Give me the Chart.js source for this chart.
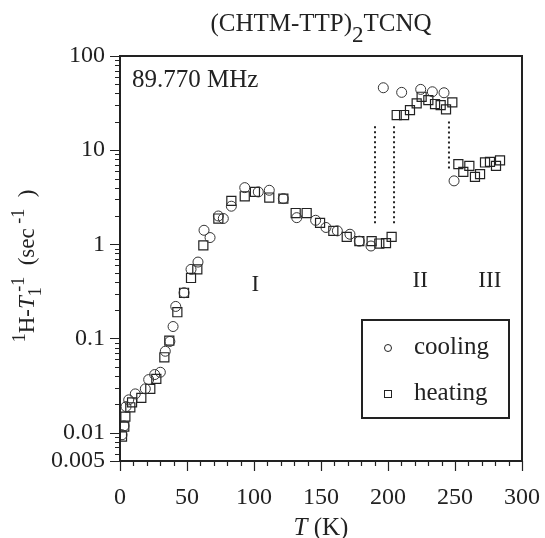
<!DOCTYPE html>
<html>
<head>
<meta charset="utf-8">
<script src="https://cdn.jsdelivr.net/npm/chart.js@4.4.1/dist/chart.umd.min.js"></script>
<style>
html, body { margin: 0; padding: 0; background: #fff; }
</style>
</head>
<body>
<canvas id="c" width="545" height="538"></canvas>
<script>
// cooling run (circles)
const coolingT = [1.5, 3, 4.5, 6.5, 11.4, 18.9, 21.4, 25.9, 30.1, 33.8, 37.2, 39.6, 41.6, 47.8, 53, 58.2,
    62.7, 67.2, 73.4, 77.1, 83.1, 93.1, 103.2, 111.4, 121.9, 131.9, 146, 153.7, 162.2, 171.6, 178.6, 187.3,
    196.5, 210.2, 224.4, 233.1, 241.8, 249.3];
const coolingRate = [0.0095, 0.0118, 0.0189, 0.0223, 0.0258, 0.0292, 0.0366, 0.0414, 0.0438, 0.0732, 0.093, 0.134, 0.219, 0.306, 0.542, 0.648,
    1.41, 1.18, 2.0, 1.88, 2.54, 4.0, 3.6, 3.75, 3.06, 1.92, 1.80, 1.51, 1.39, 1.28, 1.08, 0.96,
    46, 41.1, 44.2, 41.7, 40.7, 4.72];

// heating run (squares)
const heatingT = [1.5, 3.2, 4, 7.7, 9, 15.9, 22.6, 27.1, 33.1, 36.8, 42.8, 47.8, 53, 57.7, 62.2, 73.4,
    83.1, 93.1, 100.7, 111.4, 121.9, 131.1, 139.3, 149.3, 159.2, 169.2, 178.6, 187.8, 193.5, 198.5, 202.7,
    206.5, 212, 216.4, 221.4, 225.1, 230.1, 235.1, 239.3, 243.3, 248,
    252.5, 256.2, 260.7, 264.9, 268.7, 272.4, 276.1, 280.6, 283.6];
const heatingRate = [0.0091, 0.0116, 0.0148, 0.0186, 0.021, 0.0234, 0.0292, 0.0372, 0.0632, 0.095, 0.190, 0.306, 0.439, 0.542, 0.975, 1.88,
    2.89, 3.24, 3.6, 3.14, 3.06, 2.15, 2.15, 1.69, 1.39, 1.20, 1.08, 1.08, 1.02, 1.03, 1.20,
    23.6, 23.6, 26.6, 31.4, 36.9, 34.0, 30.9, 30.1, 27.1, 32.2,
    7.1, 5.88, 6.8, 5.2, 5.56, 7.4, 7.5, 6.8, 7.8];

// dotted transition markers
const transitionT = [190.3, 204.5, 245.5];
const transitionLow = [1.67, 1.67, 6.4];
const transitionHigh = [18.5, 18.5, 20.8];

// phase labels
const phaseNames = ["I", "II", "III"];
const phaseT = [101, 224, 276];
const phaseRate = [0.37, 0.41, 0.41];

const xMajorTicks = [0, 50, 100, 150, 200, 250, 300];
const xMinorTicks = [10, 20, 30, 40, 60, 70, 80, 90, 110, 120, 130, 140, 160, 170, 180, 190,
    210, 220, 230, 240, 260, 270, 280, 290];
const yMajorTicks = [0.005, 0.01, 0.1, 1, 10, 100];
const yMinorTicks = [0.006, 0.007, 0.008, 0.009, 0.02, 0.03, 0.04, 0.05, 0.06, 0.07, 0.08, 0.09,
    0.2, 0.3, 0.4, 0.5, 0.6, 0.7, 0.8, 0.9, 2, 3, 4, 5, 6, 7, 8, 9, 20, 30, 40, 50, 60, 70, 80, 90];

const ink = "#222";
const serif = "'Liberation Serif', 'DejaVu Serif', serif";

const toPoints = (xs, ys) => xs.map((x, i) => ({ x: x, y: ys[i] }));

const transitionSets = transitionT.map((t, i) => ({
    label: "transition" + i,
    data: [{ x: t, y: transitionLow[i] }, { x: t, y: transitionHigh[i] }],
    showLine: true,
    borderColor: ink,
    borderWidth: 2,
    borderDash: [2, 3],
    pointRadius: 0
}));

// draws mixed-font text pieces left to right, returns total width
const drawPieces = (ctx, pieces, x, y, measureOnly) => {
    let cx = x;
    pieces.forEach(p => {
        ctx.font = p.font;
        const w = ctx.measureText(p.text).width;
        if (!measureOnly) ctx.fillText(p.text, cx, y + (p.dy || 0));
        if (!p.noAdvance) cx += w;
    });
    return cx - x;
};

const decorations = {
    id: "decorations",
    afterDraw(chart) {
        const ctx = chart.ctx;
        const xs = chart.scales.x, ys = chart.scales.y;
        const a = chart.chartArea;
        ctx.save();
        ctx.strokeStyle = ink;
        ctx.fillStyle = ink;

        // frame
        ctx.lineWidth = 2;
        ctx.strokeRect(a.left, a.top, a.right - a.left, a.bottom - a.top);

        // tick marks, outward
        ctx.lineWidth = 1.2;
        ctx.beginPath();
        xMajorTicks.forEach(v => { const px = Math.round(xs.getPixelForValue(v)) + 0.5; ctx.moveTo(px, a.bottom); ctx.lineTo(px, a.bottom + 10); });
        xMinorTicks.forEach(v => { const px = Math.round(xs.getPixelForValue(v)) + 0.5; ctx.moveTo(px, a.bottom); ctx.lineTo(px, a.bottom + 5); });
        yMajorTicks.forEach(v => { const py = Math.round(ys.getPixelForValue(v)) + 0.5; ctx.moveTo(a.left, py); ctx.lineTo(a.left - 10, py); });
        yMinorTicks.forEach(v => { const py = Math.round(ys.getPixelForValue(v)) + 0.5; ctx.moveTo(a.left, py); ctx.lineTo(a.left - 5, py); });
        ctx.stroke();

        // title
        ctx.textBaseline = "alphabetic";
        ctx.textAlign = "left";
        const titlePieces = [
            { text: "(CHTM-TTP)", font: "25px " + serif },
            { text: "2", font: "23px " + serif, dy: 11 },
            { text: "TCNQ", font: "25px " + serif }
        ];
        const tw = drawPieces(ctx, titlePieces, 0, 0, true);
        drawPieces(ctx, titlePieces, (a.left + a.right) / 2 - tw / 2, 31);

        // x axis title
        const xPieces = [
            { text: "T", font: "italic 25px " + serif },
            { text: " (K)", font: "25px " + serif }
        ];
        const xw = drawPieces(ctx, xPieces, 0, 0, true);
        drawPieces(ctx, xPieces, (a.left + a.right) / 2 - xw / 2, 535);

        // y axis title, rotated
        const yPieces = [
            { text: "1", font: "18px " + serif, dy: -9 },
            { text: "H-", font: "23px " + serif },
            { text: "T", font: "italic 23px " + serif },
            { text: "1", font: "18px " + serif, dy: 7, noAdvance: true },
            { text: " -1", font: "18px " + serif, dy: -10 },
            { text: "  (sec", font: "23px " + serif },
            { text: " -1", font: "18px " + serif, dy: -10 },
            { text: "  )", font: "23px " + serif }
        ];
        const yw = drawPieces(ctx, yPieces, 0, 0, true);
        ctx.save();
        ctx.translate(34, 266);
        ctx.rotate(-Math.PI / 2);
        drawPieces(ctx, yPieces, -yw / 2, 0);
        ctx.restore();

        // frequency note
        ctx.font = "25px " + serif;
        ctx.textBaseline = "middle";
        ctx.fillText("89.770 MHz", a.left + 12, 80);

        // phase labels
        ctx.font = "23px " + serif;
        ctx.textAlign = "center";
        phaseNames.forEach((n, i) => {
            ctx.fillText(n, xs.getPixelForValue(phaseT[i]), ys.getPixelForValue(phaseRate[i]));
        });

        // legend box
        ctx.lineWidth = 2;
        ctx.strokeRect(362, 320, 147, 98);
        ctx.lineWidth = 1;
        ctx.beginPath();
        ctx.arc(388, 348, 3.5, 0, Math.PI * 2);
        ctx.stroke();
        ctx.strokeRect(384.5, 390.5, 7, 7);
        ctx.textAlign = "left";
        ctx.font = "25px " + serif;
        ctx.fillText(chart.data.datasets[0].label, 414, 347);
        ctx.fillText(chart.data.datasets[1].label, 414, 393);
        ctx.restore();
    }
};

new Chart(document.getElementById("c"), {
    type: "scatter",
    data: {
        datasets: [
            {
                label: "cooling",
                data: toPoints(coolingT, coolingRate),
                pointStyle: "circle",
                pointRadius: 5,
                borderColor: "#333",
                borderWidth: 1,
                backgroundColor: "rgba(0,0,0,0)"
            },
            {
                label: "heating",
                data: toPoints(heatingT, heatingRate),
                pointStyle: "rect",
                pointRadius: 6.4,
                borderColor: "#222",
                borderWidth: 1.2,
                backgroundColor: "rgba(0,0,0,0)"
            },
            ...transitionSets
        ]
    },
    options: {
        responsive: false,
        animation: false,
        layout: { padding: { left: 0, right: 23, top: 56, bottom: 0 } },
        plugins: {
            legend: { display: false },
            tooltip: { enabled: false },
            title: { display: false }
        },
        scales: {
            x: {
                type: "linear",
                min: 0,
                max: 300,
                afterBuildTicks: s => { s.ticks = xMajorTicks.map(v => ({ value: v })); },
                afterFit: s => { s.height = 77; s.paddingLeft = 0; s.paddingRight = 0; },
                grid: { display: false, drawTicks: false },
                border: { display: false },
                ticks: { padding: 22, color: ink, font: { family: serif, size: 24 }, maxRotation: 0, autoSkip: false }
            },
            y: {
                type: "logarithmic",
                min: 0.005,
                max: 100,
                afterBuildTicks: s => { s.ticks = yMajorTicks.map(v => ({ value: v })); },
                afterFit: s => { s.width = 120; s.paddingTop = 0; s.paddingBottom = 0; },
                grid: { display: false, drawTicks: false },
                border: { display: false },
                ticks: { padding: 15, color: ink, font: { family: serif, size: 24 }, autoSkip: false, callback: v => String(v) }
            }
        }
    },
    plugins: [decorations]
});
</script>
</body>
</html>
